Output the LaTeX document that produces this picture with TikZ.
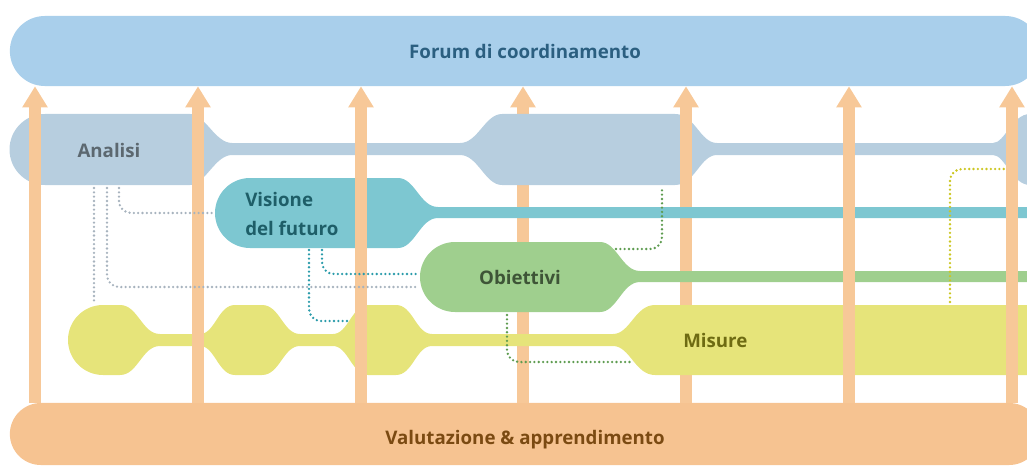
\documentclass[tikz,border=0pt]{standalone}
\usepackage{fontspec}
\setmainfont{Open Sans}
\usetikzlibrary{arrows.meta}

\definecolor{forumfill}{HTML}{A9CFEB}
\definecolor{forumtext}{HTML}{2B5F80}
\definecolor{analisifill}{HTML}{B7CEDF}
\definecolor{analisitext}{HTML}{5C6870}
\definecolor{visionefill}{HTML}{7DC7D1}
\definecolor{visionetext}{HTML}{1E5E68}
\definecolor{obiettivifill}{HTML}{9FCF8E}
\definecolor{obiettivitext}{HTML}{3E5537}
\definecolor{misurefill}{HTML}{E6E47A}
\definecolor{misuretext}{HTML}{6E6B12}
\definecolor{valutfill}{HTML}{F6C391}
\definecolor{valuttext}{HTML}{7B4A12}
\definecolor{arrowfill}{HTML}{F7C898}
\definecolor{analisidot}{HTML}{A7B3BE}
\definecolor{visionedot}{HTML}{2A9BAA}
\definecolor{obiettividot}{HTML}{5E9C50}
\definecolor{misuredot}{HTML}{CBC620}

\begin{document}
\begin{tikzpicture}[
                    x=0.025cm, y=-0.025cm,
                    panel/.style={rounded corners=#1, inner sep=0pt, minimum width=25.75cm,
                                  font=\bfseries\fontsize{13.3}{16}\selectfont},
                    stagetext/.style={inner sep=0pt, font=\bfseries\fontsize{13.3}{21.3}\selectfont},
                    upflow/.style={draw=arrowfill, line width=0.3cm,
                                   -{Triangle[width=0.6cm,length=0.525cm]}},
                    dotline/.style={line width=0.065cm, dash pattern=on 0pt off 0.108cm,
                                    line cap=round, rounded corners=0.3cm}
                ]
                \useasboundingbox (0,0) rectangle (1027,466);

                \node[panel=0.875cm, fill=forumfill, text=forumtext, minimum height=1.75cm]
                    (forum) at (525,51) {Forum di coordinamento};
                \node[panel=0.775cm, fill=valutfill, text=valuttext, minimum height=1.55cm,
                      text height=0.5cm, text depth=0pt]
                    (valutazione) at (525,434) {Valutazione \& apprendimento};

                \coordinate (a523) at (523,0);
                \draw[upflow] (valutazione.north -| a523) -- (forum.south -| a523);

                \fill[analisifill] (45,114) -- (190,114)
                    .. controls (205,114) and (215,143) .. (232,143) -- (460,143)
                    .. controls (478,143) and (485,114) .. (502,114) -- (675,114)
                    .. controls (695,114) and (700,143) .. (717,143) -- (993,143)
                    .. controls (1005,143) and (1012,114) .. (1030,114) -- (1040,114)
                    -- (1040,185) -- (1030,185)
                    .. controls (1012,185) and (1005,155) .. (993,155) -- (717,155)
                    .. controls (700,155) and (695,185) .. (675,185) -- (502,185)
                    .. controls (485,185) and (478,155) .. (460,155) -- (232,155)
                    .. controls (215,155) and (205,185) .. (190,185) -- (45,185)
                    arc[start angle=90, end angle=270, radius=35.5] -- cycle;

                \coordinate (a686) at (686,0);
                \draw[upflow] (valutazione.north -| a686) -- (forum.south -| a686);

                \fill[visionefill] (250,178) -- (398,178)
                    .. controls (415,178) and (420,207) .. (438,207) -- (1040,207)
                    -- (1040,218) -- (438,218)
                    .. controls (420,218) and (415,248) .. (398,248) -- (250,248)
                    arc[start angle=90, end angle=270, radius=35] -- cycle;

                \fill[obiettivifill] (455,242) -- (600,242)
                    .. controls (617,242) and (622,271) .. (640,271) -- (1040,271)
                    -- (1040,282) -- (640,282)
                    .. controls (622,282) and (617,312) .. (600,312) -- (455,312)
                    arc[start angle=90, end angle=270, radius=35] -- cycle;

                \fill[misurefill] (103,305) -- (120,305)
                    .. controls (138,305) and (142,334) .. (160,334) -- (200,334)
                    .. controls (215,334) and (218,305) .. (235,305) -- (262,305)
                    .. controls (280,305) and (283,334) .. (300,334) -- (333,334)
                    .. controls (348,334) and (352,305) .. (368,305) -- (396,305)
                    .. controls (413,305) and (416,334) .. (432,334) -- (613,334)
                    .. controls (630,334) and (635,305) .. (655,305) -- (1040,305)
                    -- (1040,375) -- (655,375)
                    .. controls (635,375) and (630,346) .. (613,346) -- (432,346)
                    .. controls (416,346) and (413,375) .. (396,375) -- (368,375)
                    .. controls (352,375) and (348,346) .. (333,346) -- (300,346)
                    .. controls (283,346) and (280,375) .. (262,375) -- (235,375)
                    .. controls (218,375) and (215,346) .. (200,346) -- (160,346)
                    .. controls (142,346) and (138,375) .. (120,375) -- (103,375)
                    arc[start angle=90, end angle=270, radius=35] -- cycle;

                \foreach \ax in {35,198,361,849,1012} {
                    \coordinate (ax) at (\ax,0);
                    \draw[upflow] (valutazione.north -| ax) -- (forum.south -| ax);
                }

                \coordinate (an-1) at (94,188);
                \coordinate (an-2) at (107,188);
                \coordinate (an-3) at (119,188);
                \coordinate (an-4) at (662,188);
                \coordinate (an-5) at (1006,169);
                \coordinate (vi-1) at (213,213);
                \coordinate (vi-2) at (309,250);
                \coordinate (vi-3) at (322,250);
                \coordinate (ob-1) at (418,287);
                \coordinate (ob-2) at (418,274);
                \coordinate (ob-3) at (616,249);
                \coordinate (ob-4) at (507,315);
                \coordinate (mi-1) at (94,302);
                \coordinate (mi-2) at (348,321);
                \coordinate (mi-3) at (633,362);
                \coordinate (mi-4) at (950,302);

                \draw[dotline, analisidot] (an-1) -- (mi-1);
                \draw[dotline, analisidot] (an-2) |- (ob-1);
                \draw[dotline, analisidot] (an-3) |- (vi-1);
                \draw[dotline, visionedot] (vi-3) |- (ob-2);
                \draw[dotline, visionedot] (vi-2) |- (mi-2);
                \draw[dotline, obiettividot] (ob-3) -| (an-4);
                \draw[dotline, obiettividot] (ob-4) |- (mi-3);
                \draw[dotline, misuredot] (mi-4) |- (an-5);

                \node[stagetext, text=analisitext] (analisi) at (109,150) {Analisi};
                \node[stagetext, text=visionetext, align=left, anchor=west]
                    (visione) at (245,214) {Visione\\del futuro};
                \node[stagetext, text=obiettivitext] (obiettivi) at (520,277) {Obiettivi};
                \node[stagetext, text=misuretext, anchor=west] (misure) at (683,340) {Misure};
                \end{tikzpicture}
\end{document}
